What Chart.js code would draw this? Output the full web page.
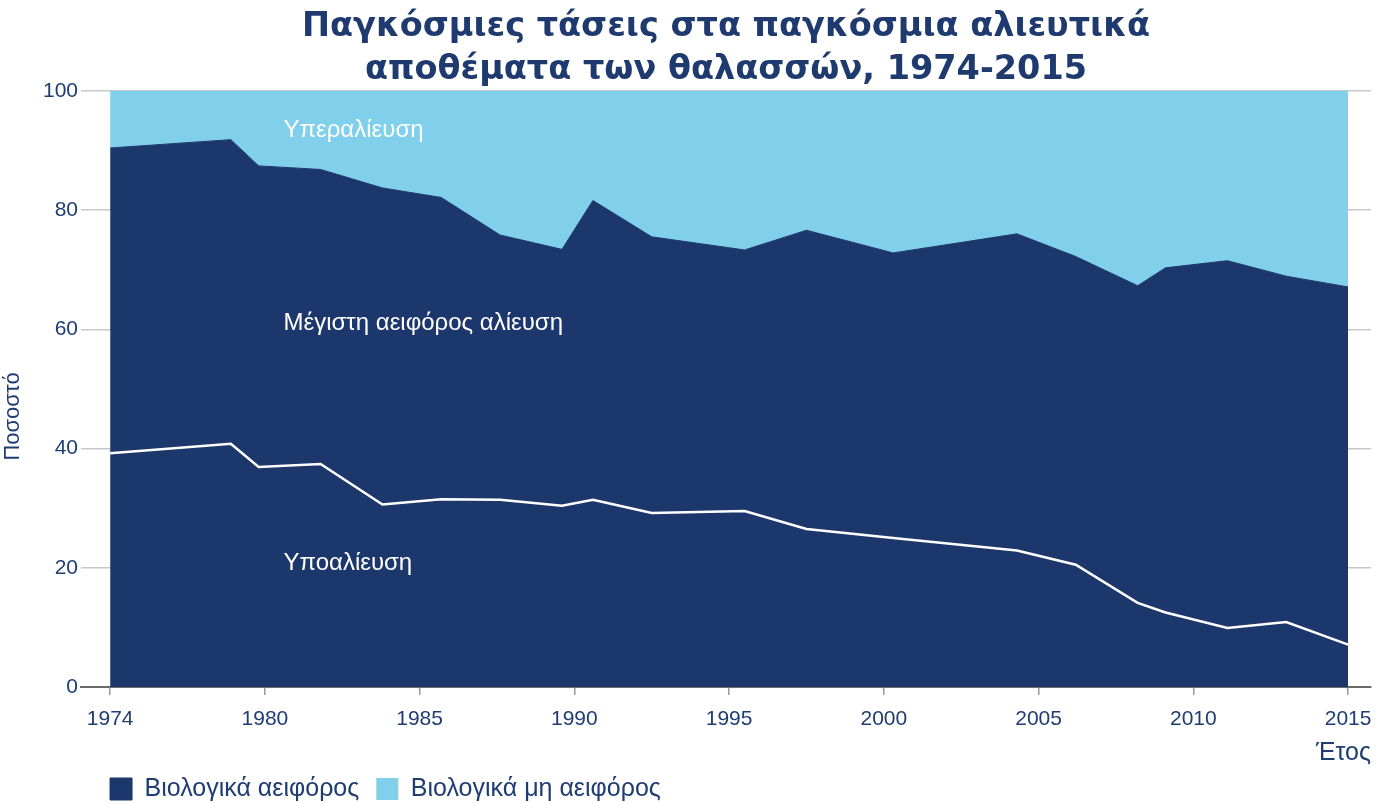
<!DOCTYPE html>
<html>
<head>
<meta charset="utf-8">
<script src="https://cdn.jsdelivr.net/npm/chart.js@4/dist/chart.umd.min.js"></script>
<style>
  html, body { margin: 0; padding: 0; background: #ffffff; }
  #wrap { width: 1379px; height: 803px; position: relative; }
</style>
</head>
<body>
<div id="wrap"><canvas id="c"></canvas></div>
<script>
// ---- data (x positions on the chart's year axis) ----
const years = [1975, 1978.9, 1979.8, 1981.8, 1983.8, 1985.7, 1987.6, 1989.6, 1990.6, 1992.5,
               1995.5, 1997.5, 2000.3, 2004.3, 2006.2, 2008.2, 2009.1, 2011.1, 2013.0, 2015];
// share of stocks fished within biologically sustainable levels (%)
const sustainable = [90.4, 91.8, 87.4, 86.8, 83.7, 82.1, 75.8, 73.4, 81.6, 75.5,
                     73.3, 76.6, 72.8, 76.0, 72.2, 67.3, 70.3, 71.5, 68.9, 67.1];
// share of underfished stocks (%)
const underfished = [39.2, 40.8, 36.9, 37.4, 30.6, 31.5, 31.4, 30.4, 31.4, 29.2,
                     29.5, 26.5, 25.0, 22.9, 20.5, 14.1, 12.5, 9.9, 10.9, 7.1];
const xTickValues = [1975, 1980, 1985, 1990, 1995, 2000, 2005, 2010, 2015];
const xTickLabels = ['1974', '1980', '1985', '1990', '1995', '2000', '2005', '2010', '2015'];
const yTickValues = [0, 20, 40, 60, 80, 100];
const seriesNames = ['Βιολογικά αειφόρος', 'Βιολογικά μη αειφόρος'];
const regionLabels = ['Υπεραλίευση', 'Μέγιστη αειφόρος αλίευση', 'Υποαλίευση'];
const regionLabelPos = [[1980.6, 93.3], [1980.6, 61.0], [1980.6, 20.7]];

const NAVY = '#1c376c';
const LIGHT = '#80cfeb';
const TEXT = '#1f3c73';
const FONT = '"Liberation Sans", Arial, sans-serif';

const pts = (ys) => years.map((x, i) => ({ x: x, y: ys[i] }));

const regionLabelPlugin = {
  id: 'regionLabels',
  afterDatasetsDraw(chart) {
    const { ctx, scales: { x, y } } = chart;
    ctx.save();
    ctx.fillStyle = '#ffffff';
    ctx.font = '24px ' + FONT;
    ctx.textAlign = 'left';
    ctx.textBaseline = 'middle';
    regionLabels.forEach((t, i) => {
      ctx.fillText(t, x.getPixelForValue(regionLabelPos[i][0]), y.getPixelForValue(regionLabelPos[i][1]));
    });
    ctx.restore();
  }
};

const blockShift = {
  id: 'blockShift',
  afterLayout(chart) {
    const a = chart.chartArea;
    if (chart.legend) {
      chart.legend.left = a.left + 12;
      chart.legend.top = a.bottom + 72.5;
    }
    if (chart.titleBlock) {
      chart.titleBlock.left = a.left;
      chart.titleBlock.right = a.right;
    }
  }
};

new Chart(document.getElementById('c'), {
  type: 'line',
  data: {
    datasets: [
      {
        label: seriesNames[0],
        data: pts(sustainable),
        fill: 'origin',
        backgroundColor: NAVY,
        borderColor: NAVY,
        borderWidth: 1,
        pointRadius: 0,
        tension: 0,
        order: 2
      },
      {
        label: seriesNames[1],
        data: pts(sustainable),
        fill: 'end',
        backgroundColor: LIGHT,
        borderColor: LIGHT,
        borderWidth: 0,
        pointRadius: 0,
        tension: 0,
        order: 3
      },
      {
        label: 'underfished',
        data: pts(underfished),
        fill: false,
        borderColor: '#ffffff',
        borderWidth: 2.5,
        pointRadius: 0,
        tension: 0,
        order: 1
      }
    ]
  },
  options: {
    responsive: true,
    maintainAspectRatio: false,
    animation: false,
    layout: { padding: { left: 0, right: 8, top: 3, bottom: -5 } },
    plugins: {
      title: {
        display: true,
        text: ['Παγκόσμιες τάσεις στα παγκόσμια αλιευτικά', 'αποθέματα των θαλασσών, 1974-2015'],
        color: '#1f3a6e',
        font: { family: '"DejaVu Sans", sans-serif', size: 33.5, weight: 'bold', lineHeight: 1.28 },
        padding: { top: 3, bottom: -1 }
      },
      legend: {
        position: 'bottom',
        align: 'start',
        maxHeight: 42,
        labels: {
          filter: (item) => item.datasetIndex < 2,
          boxWidth: 22,
          boxHeight: 22,
          color: TEXT,
          padding: 17,
          font: { family: FONT, size: 25 }
        }
      },
      tooltip: { enabled: false }
    },
    scales: {
      x: {
        type: 'linear',
        min: 1974.06,
        max: 2015.74,
        afterBuildTicks: (axis) => { axis.ticks = xTickValues.map(v => ({ value: v })); },
        afterFit: (axis) => { axis.paddingRight = 0; axis.paddingLeft = 0; },
        ticks: {
          color: TEXT,
          font: { family: FONT, size: 21, lineHeight: 1 },
          padding: 13.5,
          maxRotation: 0,
          callback: (v) => xTickLabels[xTickValues.indexOf(v)]
        },
        grid: { drawOnChartArea: false, drawTicks: true, tickLength: 8, color: '#9a9a9a', lineWidth: 1.5 },
        border: { display: true, color: '#6b6b6b', width: 2 },
        title: {
          display: true,
          text: 'Έτος',
          align: 'end',
          color: TEXT,
          font: { family: FONT, size: 25, lineHeight: 1 },
          padding: { top: -2, bottom: 0 }
        }
      },
      y: {
        min: 0,
        max: 100,
        afterBuildTicks: (axis) => { axis.ticks = yTickValues.map(v => ({ value: v })); },
        ticks: {
          color: TEXT,
          font: { family: FONT, size: 21 },
          padding: 3
        },
        grid: { drawTicks: false, color: '#c8c8c8', lineWidth: 1.5 },
        border: { display: false },
        title: {
          display: true,
          text: 'Ποσοστό         ',
          color: TEXT,
          font: { family: FONT, size: 22, lineHeight: 1 },
          padding: { top: 2, bottom: 16 }
        }
      }
    }
  },
  plugins: [regionLabelPlugin, blockShift]
});
</script>
</body>
</html>
